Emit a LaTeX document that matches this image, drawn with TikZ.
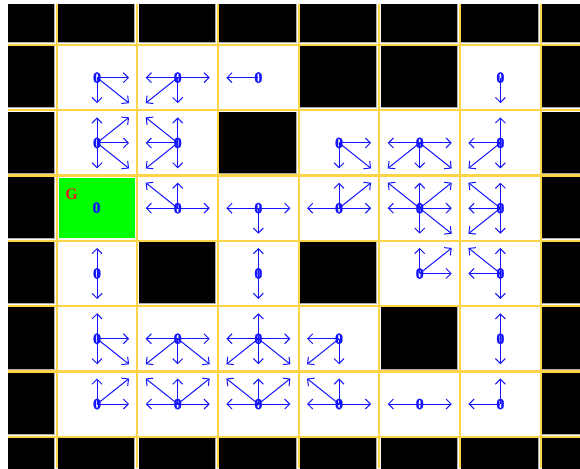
\documentclass[tikz,border=0pt]{standalone}
\usepackage{fontspec}
\setmainfont{Liberation Serif}
\newfontfamily\valfont[FakeBold=1.2]{Liberation Serif Bold}
\usetikzlibrary{arrows.meta}
\definecolor{gridy}{RGB}{255,212,72}
\definecolor{arrb}{RGB}{20,20,255}
\definecolor{goalg}{RGB}{0,255,0}
\definecolor{goalr}{RGB}{225,30,30}
\newcommand\CW{80.67}
\newcommand\RH{65.28}
\newcommand\wallcell[2]{%
  \pgfmathsetmacro\xl{56.7+\CW*(#1-1)}%
  \pgfmathsetmacro\yt{45+\RH*(#2-1)}%
  \fill[black] (\xl+1.3,\yt+1.3) rectangle (\xl+77.5,\yt+62.4);
  \draw[walledge] (\xl+78,\yt+1.3) -- (\xl+78,\yt+62.9) -- (\xl+1.3,\yt+62.9);
}
\newcommand\valcell[3]{%
  \pgfmathsetmacro\cx{56.7+\CW*(#1-0.5)}%
  \pgfmathsetmacro\cy{45+\RH*(#2-0.5)}%
  \coordinate (c-#1-#2) at (\cx,\cy);
  \foreach \a/\b in {#3} {\draw[arr] (c-#1-#2) -- ++(\a*32,\b*25.5);}
  \node[val] (v-#1-#2) at (c-#1-#2) {0};
}
\begin{document}
\begin{tikzpicture}[x=1pt,y=-1pt,
  arr/.style={arrb, line width=1pt, -{Straight Barb[length=5pt,width=10pt,line width=1pt]}},
  val/.style={text=arrb, font=\valfont\fontsize{16}{16}\selectfont, inner sep=0pt},
  walledge/.style={draw=gray!65, line width=1pt},
  gridline/.style={draw=gridy, line width=2.2pt}]
\useasboundingbox (0,0) rectangle (580,468);
\fill[white] (0,0) rectangle (580,468);
\begin{scope}
\clip (8,5) rectangle (580,468);
% walls
\foreach \c in {0,...,7} {\wallcell{\c}{0}\wallcell{\c}{7}}
\foreach \r in {1,...,6} {\wallcell{0}{\r}\wallcell{7}{\r}}
\foreach \c/\r in {4/1,5/1,3/2,2/4,4/4,5/5} {\wallcell{\c}{\r}}
% goal cell
\fill[goalg] (56.7+2.3,45+2*\RH+2.4) rectangle (56.7+\CW-2.4,45+3*\RH-2.8);
% grid lines
\foreach \k in {0,...,6} {
  \draw[gridline] (56.7+\CW*\k,0) -- (56.7+\CW*\k,468);
  \draw[gridline] (0,45+\RH*\k) -- (580,45+\RH*\k);
}
\end{scope}
% values and arrows
\valcell{1}{1}{1/0,0/1,1/1}
\valcell{2}{1}{-1/0,1/0,0/1,-1/1}
\valcell{3}{1}{-1/0}
\valcell{6}{1}{0/1}
\valcell{1}{2}{0/-1,1/-1,1/0,1/1,0/1}
\valcell{2}{2}{-1/-1,0/-1,-1/0,-1/1,0/1}
\valcell{4}{2}{1/0,0/1,1/1}
\valcell{5}{2}{-1/0,1/0,-1/1,0/1,1/1}
\valcell{6}{2}{0/-1,-1/0,-1/1,0/1}
\valcell{2}{3}{-1/-1,0/-1,-1/0,1/0}
\valcell{3}{3}{-1/0,1/0,0/1}
\valcell{4}{3}{-1/0,0/-1,1/-1,1/0}
\valcell{5}{3}{-1/-1,0/-1,1/-1,-1/0,1/0,0/1,1/1}
\valcell{6}{3}{-1/-1,0/-1,-1/0,-1/1,0/1}
\valcell{1}{4}{0/-1,0/1}
\valcell{3}{4}{0/-1,0/1}
\valcell{5}{4}{0/-1,1/-1,1/0}
\valcell{6}{4}{-1/-1,0/-1,-1/0,0/1}
\valcell{1}{5}{0/-1,1/0,0/1,1/1}
\valcell{2}{5}{-1/0,1/0,-1/1,0/1,1/1}
\valcell{3}{5}{0/-1,-1/0,1/0,-1/1,0/1,1/1}
\valcell{4}{5}{-1/0,-1/1,0/1}
\valcell{6}{5}{0/-1,0/1}
\valcell{1}{6}{0/-1,1/-1,1/0}
\valcell{2}{6}{-1/-1,0/-1,1/-1,-1/0,1/0}
\valcell{3}{6}{-1/-1,0/-1,1/-1,-1/0,1/0}
\valcell{4}{6}{-1/-1,0/-1,-1/0,1/0}
\valcell{5}{6}{-1/0,1/0}
\valcell{6}{6}{0/-1,-1/0}
% goal
\node[val] (v-1-3) at (96.5,207.7) {0};
\node[text=goalr, font=\bfseries\fontsize{16}{16}\selectfont, inner sep=0pt] (goal) at (71.5,194) {G};
\end{tikzpicture}
\end{document}
